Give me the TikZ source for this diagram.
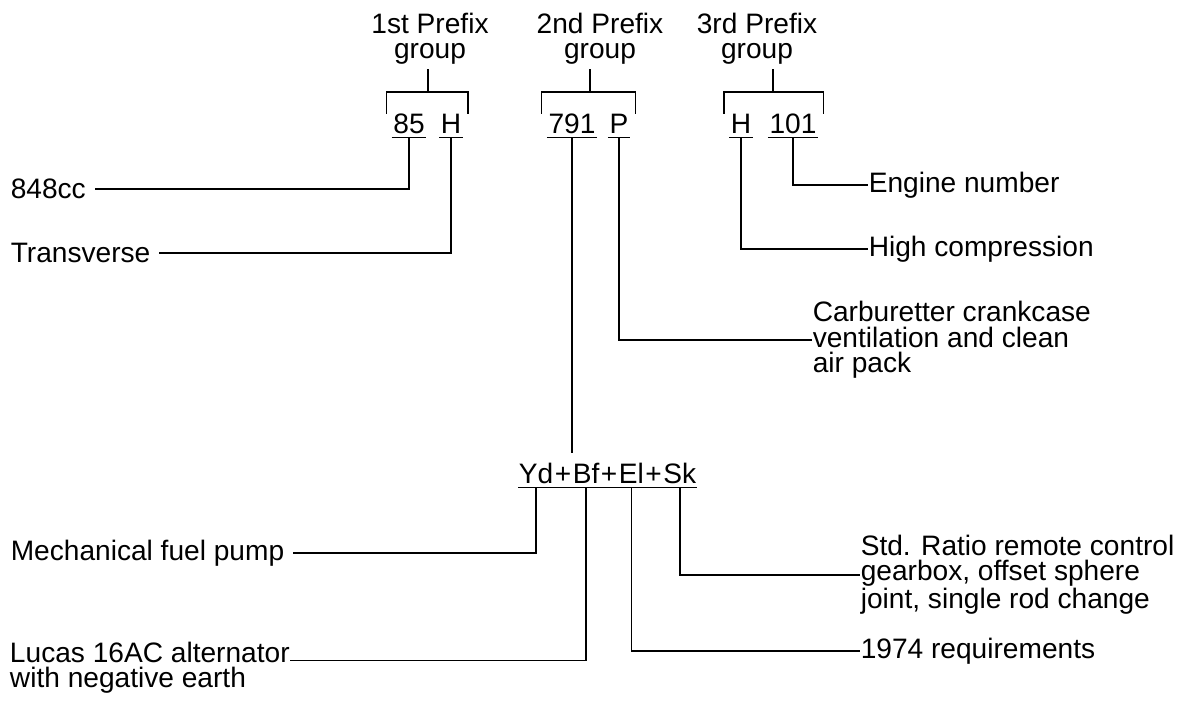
\documentclass[tikz,border=0pt]{standalone}
\usepackage{fontspec}
\setmainfont{Liberation Sans}
\usepackage{tikz}
\usetikzlibrary{positioning}
\tikzstyle{headtext}=[align=center,inner sep=2pt]
\tikzstyle{codebox}=[inner xsep=0.5pt,inner ysep=2pt,text height=11.6pt,text depth=0pt]
\tikzstyle{optbox}=[codebox,inner xsep=0pt]
\tikzstyle{lefttext}=[anchor=west,inner sep=0pt,outer xsep=5pt,align=left]
\tikzstyle{righttext}=[anchor=west,inner sep=0pt,align=left]
\tikzstyle{leader}=[draw,line width=0.9pt]

\begin{document}
\begin{tikzpicture}[x=0.02cm, y=-0.02cm, font=\fontsize{16}{14.4}\selectfont, line width=0.9pt]
    \useasboundingbox (0,0) rectangle (1200,713);
    % First the prefix group headings and the codes
    \foreach \pos/\name/\txt in {{(430,39)/h1/1st Prefix\\group}, {(600,39)/h2/2nd Prefix\\group}, {(757,39)/h3/3rd Prefix\\group}}
        \node[headtext] (\name) at \pos {\txt};

    \coordinate (g1) at (428,92);
    \coordinate (g2) at (590,92);
    \coordinate (g3) at (773,92);

    \foreach \pos/\name/\txt in {{(409,123)/c85/85}, {(451,123)/cHa/H}, {(572,123)/c791/791},
    {(619,123)/cP/P}, {(741,123)/cHb/H}, {(793,123)/c101/101}}
        \node[codebox] (\name) at \pos {\txt};

    % brackets over each group
    \foreach \grp/\first/\last/\hd in {g1/c85/cHa/h1, g2/c791/cP/h2, g3/cHb/c101/h3} {
        \draw (\grp |- \hd.south) -- (\grp);
        \draw ([xshift=-3pt,yshift=-3pt]\first.north west) |- (\grp) -| ([xshift=3pt,yshift=-3pt]\last.north east);
    }
    \foreach \name in {c85, cHa, c791, cP, cHb, c101}
        \draw (\name.south west) -- (\name.south east);

    % the option codes, one node per part
    \node[optbox] (yd) at (536,473) {Yd};
    \foreach \prev/\name/\txt in {yd/pa/+, pa/bf/Bf, bf/pb/+, pb/el/El, el/pc/+, pc/sk/Sk}
        \node[optbox, right=0pt of \prev] (\name) {\txt};
    \draw (yd.south west) -- (sk.south east);

    % Then the descriptions
    \node[lefttext] (l848) at (2,189) {848cc};
    \node[lefttext] (trans) at (2,253) {Transverse};
    \node[lefttext] (mech) at (2,553) {Mechanical fuel pump};
    \node[lefttext, outer xsep=0pt] (lucas) at (10,668) {Lucas 16AC alternator\\with negative earth};
    \node[righttext] (eng) at (868,185) {Engine number};
    \node[righttext] (high) at (868,249) {High compression};
    \node[righttext] (carb) at (812,340) {Carburetter crankcase\\ventilation and clean\\air pack};
    \node[righttext] (std) at (860,575) {Std. Ratio remote control\\gearbox, offset sphere\\joint, single rod change};
    \node[righttext] (req) at (860,651) {1974 requirements};

    % Connect codes with their descriptions
    \foreach \src/\dst in {c85/l848, cHa/trans, cP/carb, cHb/high, c101/eng, yd/mech, el/req, sk/std}
        \path[leader] (\src.south) |- (\dst);
    \path[leader] (bf.south) |- ([yshift=-0.38cm]lucas.north east);
    \path[leader] (c791.south) -- ([yshift=3pt]c791.south |- yd.north);
\end{tikzpicture}
\end{document}
